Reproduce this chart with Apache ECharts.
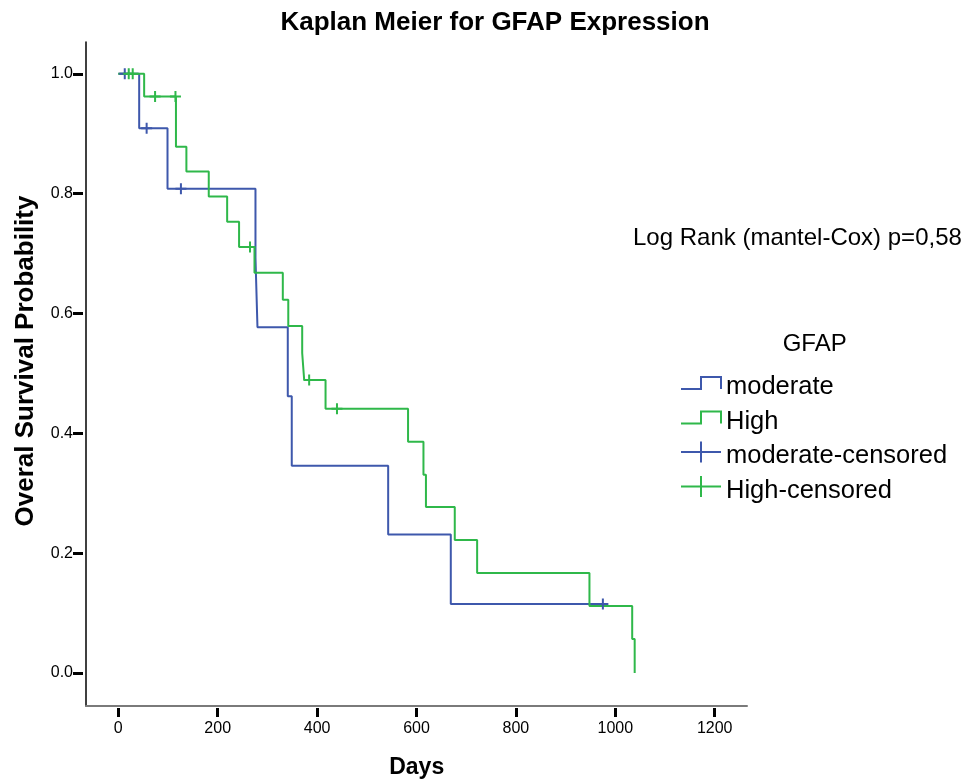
<!DOCTYPE html>
<html>
<head>
<meta charset="utf-8">
<script src="https://cdn.jsdelivr.net/npm/echarts@6.0.0/dist/echarts.min.js"></script>
<style>
html,body{margin:0;padding:0;background:#fff;}
#chart{width:974px;height:782px;}
</style>
</head>
<body>
<div id="chart"></div>
<script>
// Kaplan-Meier steps (days, survival probability)
const modTimes = [0, 42, 99, 276, 280, 341, 349, 543, 669, 975];
const modSurv  = [1.0, 0.909, 0.808, 0.693, 0.577, 0.462, 0.346, 0.231, 0.115, 0.115];
const modCensTimes = [13, 57, 126, 975];
const modCensSurv  = [1.0, 0.909, 0.808, 0.115];

const highTimes = [0, 52, 116, 137, 182, 219, 243, 274, 331, 342, 370, 374, 417, 583, 614, 619, 677, 722, 948, 1034, 1039];
const highSurv  = [1.0, 0.962, 0.878, 0.837, 0.795, 0.753, 0.711, 0.668, 0.623, 0.579, 0.534, 0.489, 0.441, 0.386, 0.331, 0.277, 0.222, 0.167, 0.112, 0.057, 0.0];
const highCensTimes = [21, 29, 74, 115, 265, 384, 440];
const highCensSurv  = [1.0, 1.0, 0.962, 0.962, 0.711, 0.489, 0.441];

const seriesNames = ['moderate', 'High', 'moderate-censored', 'High-censored'];
const xTicks = [0, 200, 400, 600, 800, 1000, 1200];
const yTicks = [0, 0.2, 0.4, 0.6, 0.8, 1.0];

const BLUE = '#3e58ac';
const GREEN = '#2fb84a';
const FONT = '"Liberation Sans", Arial, Helvetica, sans-serif';

const zip = (a, b) => a.map((v, i) => [v, b[i]]);

const STEP_ICON = 'path://M0,0 M0,29 M0,16.5 H20 V4.5 H40 V16.5';
const PLUS_ICON = 'path://M0,29 M0,10.5 H40 M20,0 V21';
const PLUS_SYMBOL = 'path://M0,5.5 H11 M5.5,0 V11';

const chart = echarts.init(document.getElementById('chart'), null, {renderer: 'canvas'});

const xBase = {type: 'value', min: -65, max: 1265, position: 'bottom', splitLine: {show: false}};
const yBase = {type: 'value', min: -0.055, max: 1.053, position: 'left', splitLine: {show: false}};

chart.setOption({
  animation: false,
  backgroundColor: '#ffffff',
  textStyle: {fontFamily: FONT},
  title: {
    text: 'Kaplan Meier for GFAP Expression',
    left: 495, top: 10, textAlign: 'center', padding: 0,
    textStyle: {fontSize: 26, fontWeight: 'bold', color: '#000', fontFamily: FONT}
  },
  grid: {left: 86, right: 227, top: 42, bottom: 76, containLabel: false},
  xAxis: [
    Object.assign({}, xBase, {
      axisLine: {show: true, onZero: false, lineStyle: {color: '#7a7a7a', width: 2}},
      axisTick: {show: false}, axisLabel: {show: false}
    }),
    Object.assign({}, xBase, {
      offset: 2,
      axisLine: {show: false, onZero: false},
      axisTick: {show: true, customValues: xTicks, length: 9, lineStyle: {color: '#000', width: 3}},
      axisLabel: {show: true, customValues: xTicks, margin: 13, color: '#000', fontSize: 16, fontFamily: FONT,
                  formatter: v => String(v)}
    })
  ],
  yAxis: [
    Object.assign({}, yBase, {
      axisLine: {show: true, onZero: false, lineStyle: {color: '#000', width: 1.5}},
      axisTick: {show: false}, axisLabel: {show: false}
    }),
    Object.assign({}, yBase, {
      offset: 3,
      axisLine: {show: false, onZero: false},
      axisTick: {show: true, customValues: yTicks, length: 10, lineStyle: {color: '#000', width: 3}},
      axisLabel: {show: true, customValues: yTicks, margin: 10, color: '#000', fontSize: 16, fontFamily: FONT,
                  formatter: v => v.toFixed(1)}
    })
  ],
  legend: {
    orient: 'vertical', left: 680, top: 371.5, padding: 0,
    itemWidth: 40, itemHeight: 29, itemGap: 3.5,
    selectedMode: false,
    textStyle: {fontSize: 25.5, color: '#000', fontFamily: FONT, padding: [0, 0, 0, 0]},
    data: [
      {name: seriesNames[0], icon: STEP_ICON, itemStyle: {color: 'rgba(0,0,0,0)', borderColor: BLUE, borderWidth: 2}},
      {name: seriesNames[1], icon: STEP_ICON, itemStyle: {color: 'rgba(0,0,0,0)', borderColor: GREEN, borderWidth: 2}},
      {name: seriesNames[2], icon: PLUS_ICON, itemStyle: {color: 'rgba(0,0,0,0)', borderColor: BLUE, borderWidth: 2}},
      {name: seriesNames[3], icon: PLUS_ICON, itemStyle: {color: 'rgba(0,0,0,0)', borderColor: GREEN, borderWidth: 2}}
    ]
  },
  graphic: [
    {type: 'text', x: 416.7, y: 768, silent: true,
     style: {text: 'Days', font: 'bold 23px ' + FONT, fill: '#000',
             align: 'center', verticalAlign: 'middle', textAlign: 'center', textVerticalAlign: 'middle'}},
    {type: 'text', x: 26, y: 361, rotation: Math.PI / 2, silent: true,
     style: {text: 'Overal Survival Probability', font: 'bold 26px ' + FONT, fill: '#000',
             align: 'center', verticalAlign: 'middle', textAlign: 'center', textVerticalAlign: 'middle'}},
    {type: 'text', x: 814.7, y: 344, silent: true,
     style: {text: 'GFAP', font: '24px ' + FONT, fill: '#000',
             align: 'center', verticalAlign: 'middle', textAlign: 'center', textVerticalAlign: 'middle'}},
    {type: 'text', x: 633, y: 238.5, silent: true,
     style: {text: 'Log Rank (mantel-Cox) p=0,58', font: '24px ' + FONT, fill: '#000',
             align: 'left', verticalAlign: 'middle', textAlign: 'left', textVerticalAlign: 'middle'}}
  ],
  series: [
    {name: seriesNames[0], type: 'line', step: 'end', xAxisIndex: 0, yAxisIndex: 0,
     data: zip(modTimes, modSurv), showSymbol: false, symbol: 'none', silent: true, z: 2,
     itemStyle: {color: BLUE}, lineStyle: {color: BLUE, width: 2}},
    {name: seriesNames[1], type: 'line', step: 'end', xAxisIndex: 0, yAxisIndex: 0,
     data: zip(highTimes, highSurv), showSymbol: false, symbol: 'none', silent: true, z: 3,
     itemStyle: {color: GREEN}, lineStyle: {color: GREEN, width: 2}},
    {name: seriesNames[2], type: 'scatter', xAxisIndex: 0, yAxisIndex: 0,
     data: zip(modCensTimes, modCensSurv), symbol: PLUS_SYMBOL, symbolSize: 11, silent: true, z: 4,
     itemStyle: {color: 'rgba(0,0,0,0)', borderColor: BLUE, borderWidth: 2, opacity: 1}},
    {name: seriesNames[3], type: 'scatter', xAxisIndex: 0, yAxisIndex: 0,
     data: zip(highCensTimes, highCensSurv), symbol: PLUS_SYMBOL, symbolSize: 11, silent: true, z: 5,
     itemStyle: {color: 'rgba(0,0,0,0)', borderColor: GREEN, borderWidth: 2, opacity: 1}}
  ]
});
</script>
</body>
</html>
